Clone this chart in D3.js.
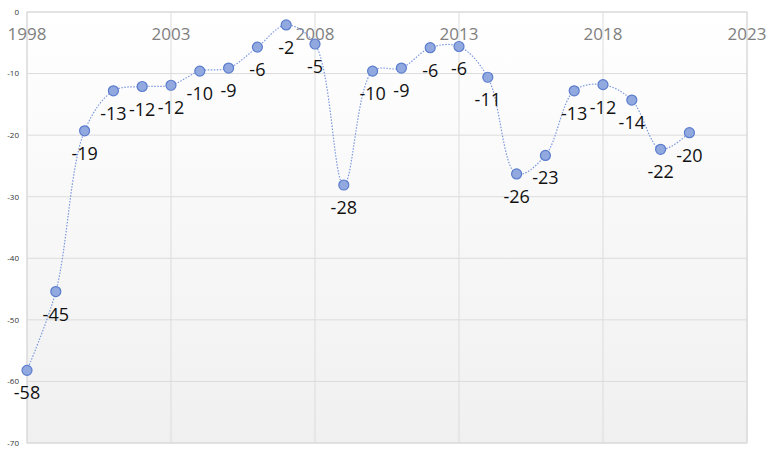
<!DOCTYPE html>
<html><head><meta charset="utf-8">
<script src="https://cdn.jsdelivr.net/npm/d3@7/dist/d3.min.js"></script>
<style>body{margin:0;background:#fff}svg{display:block}text{font-family:"Open Sans",Lato,sans-serif}</style>
</head><body>
<script>
const years = [1998,1999,2000,2001,2002,2003,2004,2005,2006,2007,2008,2009,2010,2011,2012,2013,2014,2015,2016,2017,2018,2019,2020,2021];
const values = [-58.2,-45.4,-19.3,-12.8,-12.1,-11.9,-9.6,-9.1,-5.7,-2.1,-5.2,-28.1,-9.6,-9.1,-5.8,-5.6,-10.6,-26.3,-23.3,-12.8,-11.8,-14.3,-22.3,-19.6];
const labels = ["-58","-45","-19","-13","-12","-12","-10","-9","-6","-2","-5","-28","-10","-9","-6","-6","-11","-26","-23","-13","-12","-14","-22","-20"];
const xTicks = [1998,2003,2008,2013,2018,2023];
const yTicks = [0,-10,-20,-30,-40,-50,-60,-70];

const W=766,H=449, L=27, R=747, T=12, B=443;
const svg=d3.select("body").append("svg").attr("width",W).attr("height",H);
const x=d3.scaleLinear().domain([1998,2023]).range([L,R]);
const y=d3.scaleLinear().domain([0,-70]).range([T,B]);

const defs=svg.append("defs");
const g=defs.append("linearGradient").attr("id","bg").attr("x1",0).attr("y1",0).attr("x2",0).attr("y2",1);
g.append("stop").attr("offset","0%").attr("stop-color","#ffffff");
g.append("stop").attr("offset","100%").attr("stop-color","#f0f0f0");
svg.append("rect").attr("x",L).attr("y",T).attr("width",R-L).attr("height",B-T).attr("fill","url(#bg)");

// grid
svg.append("g").selectAll("line").data(yTicks).join("line")
 .attr("x1",L).attr("x2",R).attr("y1",d=>y(d)).attr("y2",d=>y(d)).attr("stroke","#dcdcdc").attr("stroke-width",1);
svg.append("g").selectAll("line").data(xTicks).join("line")
 .attr("y1",T).attr("y2",B).attr("x1",d=>x(d)).attr("x2",d=>x(d)).attr("stroke","#dcdcdc").attr("stroke-width",1);
svg.append("rect").attr("x",L).attr("y",T).attr("width",R-L).attr("height",B-T).attr("fill","none").attr("stroke","#d8d8d8");

// y labels
svg.append("g").selectAll("text").data(yTicks).join("text")
 .attr("x",19).attr("y",d=>y(d)).attr("dy","0.35em").attr("text-anchor","end")
 .attr("font-size",8).attr("fill","#333").text(d=>d);
// x labels
svg.append("g").selectAll("text").data(xTicks).join("text")
 .attr("x",d=>x(d)).attr("y",40).attr("text-anchor","middle")
 .attr("font-size",17).attr("fill","#808080").text(d=>d);

const pts=years.map((yr,i)=>[x(yr),y(values[i])]);
svg.append("path").attr("d",d3.line().curve(d3.curveCatmullRom.alpha(0.5))(pts))
 .attr("fill","none").attr("stroke","#7b98dd").attr("stroke-width",1.2).attr("stroke-dasharray","1.5,1.5");

svg.append("g").selectAll("circle").data(pts).join("circle")
 .attr("cx",d=>d[0]).attr("cy",d=>d[1]).attr("r",5)
 .attr("fill","#92a9e0").attr("stroke","#5a7ccc").attr("stroke-width",1.2);

svg.append("g").selectAll("text").data(pts).join("text")
 .attr("x",d=>d[0]).attr("y",d=>d[1]+29).attr("text-anchor","middle")
 .attr("font-size",18).attr("fill","#111").text((d,i)=>labels[i]);
</script>
</body></html>
